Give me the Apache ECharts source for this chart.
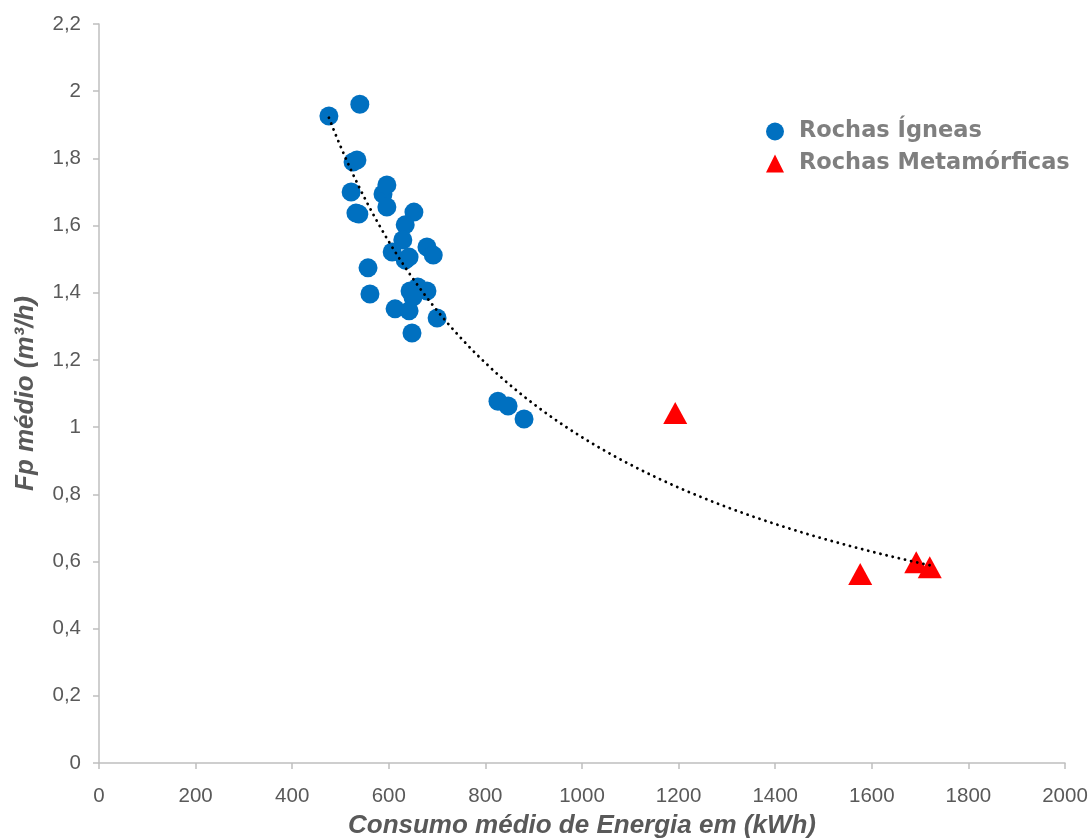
<!DOCTYPE html>
<html>
<head>
<meta charset="utf-8">
<script src="https://cdn.jsdelivr.net/npm/echarts@6/dist/echarts.min.js"></script>
<style>
  html, body { margin: 0; padding: 0; background: #ffffff; overflow: hidden; }
  #chart { width: 1092px; height: 839px; }
</style>
</head>
<body>
<div id="chart"></div>
<script>
// ---- Data ----
const igneasX = [476, 540, 526, 534, 522, 532, 538, 588, 596, 596, 652, 634, 629, 607, 634, 642, 679, 692, 557, 561, 644, 660, 679, 650, 613, 642, 700, 648, 826, 847, 880];
const igneasY = [1.926, 1.961, 1.789, 1.795, 1.700, 1.637, 1.634, 1.694, 1.721, 1.655, 1.640, 1.602, 1.557, 1.521, 1.497, 1.506, 1.536, 1.512, 1.474, 1.396, 1.405, 1.417, 1.405, 1.387, 1.352, 1.346, 1.325, 1.280, 1.077, 1.063, 1.024];
const metaX = [1193, 1576, 1692, 1720];
const metaY = [1.042, 0.563, 0.598, 0.583];
const xTickLabels = ['0', '200', '400', '600', '800', '1000', '1200', '1400', '1600', '1800', '2000'];
const yTickLabels = ['0', '0,2', '0,4', '0,6', '0,8', '1', '1,2', '1,4', '1,6', '1,8', '2', '2,2'];
const seriesNames = ['Rochas Ígneas', 'Rochas Metamórficas'];
const xTitle = 'Consumo médio de Energia em (kWh)';
const yTitle = 'Fp médio (m³/h)';

// ---- Power trendline (least squares on ln-ln, like Excel) over all points ----
const allX = igneasX.concat(metaX);
const allY = igneasY.concat(metaY);
let sx = 0, sy = 0, sxx = 0, sxy = 0;
const n = allX.length;
for (let i = 0; i < n; i++) {
  const lx = Math.log(allX[i]), ly = Math.log(allY[i]);
  sx += lx; sy += ly; sxx += lx * lx; sxy += lx * ly;
}
const b = (n * sxy - sx * sy) / (n * sxx - sx * sx);
const a = Math.exp((sy - b * sx) / n);
const xMin = Math.min.apply(null, allX), xMax = Math.max.apply(null, allX);
const trend = [];
const steps = 120;
for (let i = 0; i <= steps; i++) {
  const x = xMin + (xMax - xMin) * i / steps;
  trend.push([x, a * Math.pow(x, b)]);
}

const zip = (xs, ys) => xs.map((x, i) => [x, ys[i]]);

const chart = echarts.init(document.getElementById('chart'), null, { renderer: 'canvas' });
const FONT = "'Liberation Sans', Arial, sans-serif";
chart.setOption({
  animation: false,
  backgroundColor: '#ffffff',
  grid: { left: 99, right: 27, top: 24, bottom: 76, containLabel: false, outerBoundsMode: 'none' },
  legend: {
    data: seriesNames,
    orient: 'vertical',
    left: 761,
    top: 115,
    itemWidth: 18,
    itemHeight: 18,
    itemGap: 9,
    textStyle: { fontFamily: "'DejaVu Sans', sans-serif", fontSize: 22.5, fontWeight: 'bold', color: '#7f7f7f', padding: [0, 0, 0, 10] }
  },
  xAxis: {
    type: 'value',
    min: 0, max: 2000, interval: 200,
    name: xTitle,
    nameLocation: 'middle',
    nameGap: 50,
    nameTextStyle: { fontFamily: FONT, fontSize: 26, fontWeight: 'bold', fontStyle: 'italic', color: '#595959' },
    axisLine: { show: true, lineStyle: { color: '#bfbfbf', width: 1.5 } },
    axisTick: { show: true, length: 6, lineStyle: { color: '#bfbfbf', width: 1.5 } },
    axisLabel: { fontFamily: FONT, fontSize: 20.5, color: '#595959', margin: 23,
      formatter: (v) => xTickLabels[Math.round(v / 200)] },
    splitLine: { show: false }
  },
  yAxis: {
    type: 'value',
    min: 0, max: 2.2, interval: 0.2,
    name: yTitle,
    nameLocation: 'middle',
    nameGap: 60,
    nameRotate: 90,
    nameTextStyle: { fontFamily: FONT, fontSize: 26, fontWeight: 'bold', fontStyle: 'italic', color: '#595959' },
    axisLine: { show: true, lineStyle: { color: '#bfbfbf', width: 1.5 } },
    axisTick: { show: true, length: 6, lineStyle: { color: '#bfbfbf', width: 1.5 } },
    axisLabel: { fontFamily: FONT, fontSize: 20.5, color: '#595959', margin: 18,
      formatter: (v) => yTickLabels[Math.round(v / 0.2)] },
    splitLine: { show: false }
  },
  series: [
    {
      name: seriesNames[0],
      type: 'scatter',
      symbol: 'circle',
      symbolSize: 19,
      itemStyle: { color: '#0070c0', opacity: 1 },
      data: zip(igneasX, igneasY),
      z: 3
    },
    {
      name: seriesNames[1],
      type: 'scatter',
      symbol: 'triangle',
      symbolSize: [24, 22],
      itemStyle: { color: '#ff0000', opacity: 1 },
      data: zip(metaX, metaY),
      z: 3
    },
    {
      name: 'Tendência',
      type: 'line',
      data: trend,
      showSymbol: false,
      symbol: 'none',
      smooth: false,
      lineStyle: { color: '#000000', width: 2.8, type: [0.1, 6.2], cap: 'round' },
      z: 5,
      silent: true
    }
  ]
});
</script>
</body>
</html>
